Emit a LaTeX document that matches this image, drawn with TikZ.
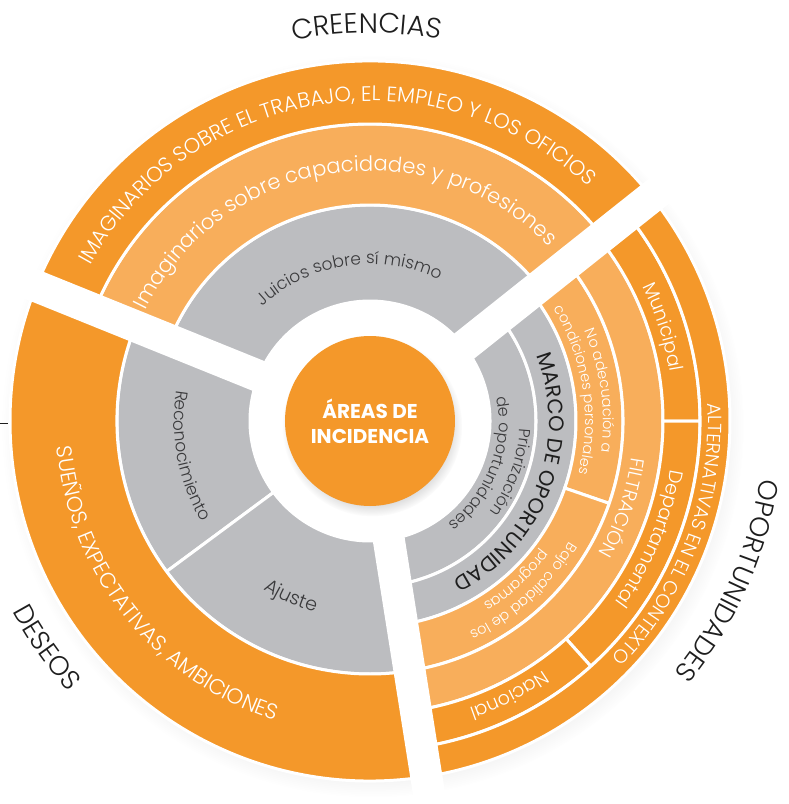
\documentclass[tikz,border=0pt]{standalone}
\usepackage{fontspec}
\IfFontExistsTF{Poppins Light}
    {\setmainfont{Poppins Light}}
    {\setmainfont{Poppins}}
\newfontfamily\negrita{Poppins}
\usetikzlibrary{decorations.text,shadows}

\definecolor{naranja}{HTML}{F4982A}
\definecolor{naranjaclaro}{HTML}{F8AE5B}
\definecolor{gris}{HTML}{BCBDC0}
\definecolor{grisoscuro}{HTML}{3A3A3C}
\definecolor{negro}{HTML}{1E1E1E}

% piece of a ring: fill, inner radius, outer radius, from angle, to angle
\newcommand{\ringpart}[5]{%
  \filldraw[fill=#1, draw=white, line width=3pt]
    (#4:#2) arc[start angle=#4, end angle=#5, radius=#2]
    -- (#5:#3) arc[start angle=#5, end angle=#4, radius=#3] -- cycle;}

% text bent on a circle: [family], colour, size, radius, from angle, to angle, text
\newcommand{\ringtext}[7][]{%
  \path[decorate, decoration={text along path, text align=center, text color=#2,
      text={|#1\fontsize{#3}{#3}\selectfont|#7}}]
    (#5:#4) arc[start angle=#5, end angle=#6, radius=#4];}

\begin{document}
\begin{tikzpicture}[x=1pt, y=1pt]
    \useasboundingbox (-370,-383) rectangle (418,421);

    % soft shadow under the wheel
    \fill[white, circular drop shadow={shadow scale=1.03, shadow xshift=3pt, shadow yshift=-5pt, opacity=0.25}] (0,0) circle (360);

    % creencias
    \ringpart{gris}{120}{216}{38.5}{158}
    \ringpart{naranjaclaro}{216}{297}{38.5}{158}
    \ringpart{naranja}{297}{360}{38.5}{158}

    % deseos
    \ringpart{gris}{120}{253}{158}{216.5}
    \ringpart{gris}{120}{253}{216.5}{279}
    \ringpart{naranja}{253}{360}{158}{279}

    % oportunidades
    \ringpart{gris}{120}{166}{-81}{38.5}
    \ringpart{gris}{166}{206}{-81}{38.5}
    \ringpart{naranjaclaro}{206}{253}{-19}{38.5}
    \ringpart{naranjaclaro}{206}{253}{-81}{-19}
    \ringpart{naranjaclaro}{253}{293}{-81}{38.5}
    \ringpart{naranja}{293}{330}{0}{38.5}
    \ringpart{naranja}{293}{330}{-48}{0}
    \ringpart{naranja}{293}{330}{-81}{-48}
    \ringpart{naranja}{330}{360}{-81}{38.5}

    % white cuts between the three areas
    \foreach \a in {38.5,158,279}
        \draw[white, line width=32pt] (0,0) -- (\a:430);

    \node[circle, fill=naranja, minimum size=170pt, inner sep=0pt,
          circular drop shadow={shadow scale=1.06, shadow xshift=2pt, shadow yshift=-5pt, opacity=0.3},
          text=white, align=center, font=\negrita\fontsize{20}{25}\selectfont\bfseries] (centro) at (0,0) {ÁREAS DE\\INCIDENCIA};

    % labels of creencias
    \ringtext{negro}{28}{388}{180.5}{0.5}{CREENCIAS}
    \ringtext{white}{21}{320}{189}{9}{IMAGINARIOS SOBRE EL TRABAJO, EL EMPLEO Y LOS OFICIOS}
    \ringtext{white}{21}{250}{189}{9}{Imaginarios sobre capacidades y profesiones}
    \ringtext{grisoscuro}{17}{157}{188.5}{8.5}{Juicios sobre sí mismo}

    % labels of deseos
    \ringtext{grisoscuro}{17}{196}{101}{281}{Reconocimiento}
    \ringtext{grisoscuro}{19}{199}{155.8}{335.8}{Ajuste}
    \ringtext{white}{21.5}{314}{128.6}{308.6}{SUEÑOS, EXPECTATIVAS, AMBICIONES}
    \ringtext{negro}{27}{405}{125}{305}{DESEOS}

    % labels of oportunidades
    \ringtext{grisoscuro}{16}{150}{70}{-110}{Priorización}
    \ringtext{grisoscuro}{16}{129}{69}{-111}{de oportunidades}
    \ringtext[\negrita]{negro}{21}{179}{69.5}{-110.5}{MARCO DE OPORTUNIDAD}
    \ringtext{white}{14.5}{233}{97.5}{-82.5}{No adecuación a}
    \ringtext{white}{14.5}{215}{98.6}{-81.4}{condiciones personales}
    \ringtext{white}{14.5}{233}{42}{-138}{Bajo calidad de los}
    \ringtext{white}{14.5}{215}{42.6}{-137.4}{programas}
    \ringtext{white}{19}{264}{71}{-109}{FILTRACIÓN}
    \ringtext{white}{19}{304}{107.8}{-72.2}{Municipal}
    \ringtext{white}{19}{304}{67.2}{-112.8}{Departamental}
    \ringtext{white}{19}{304}{27}{-153}{Nacional}
    \ringtext{white}{19}{338}{69.3}{-110.7}{ALTERNATIVAS EN EL CONTEXTO}
    \ringtext{negro}{27}{394}{66}{-114}{OPORTUNIDADES}

    \draw[negro, line width=1pt] (-370,-2) -- (-362,-2);
\end{tikzpicture}
\end{document}
